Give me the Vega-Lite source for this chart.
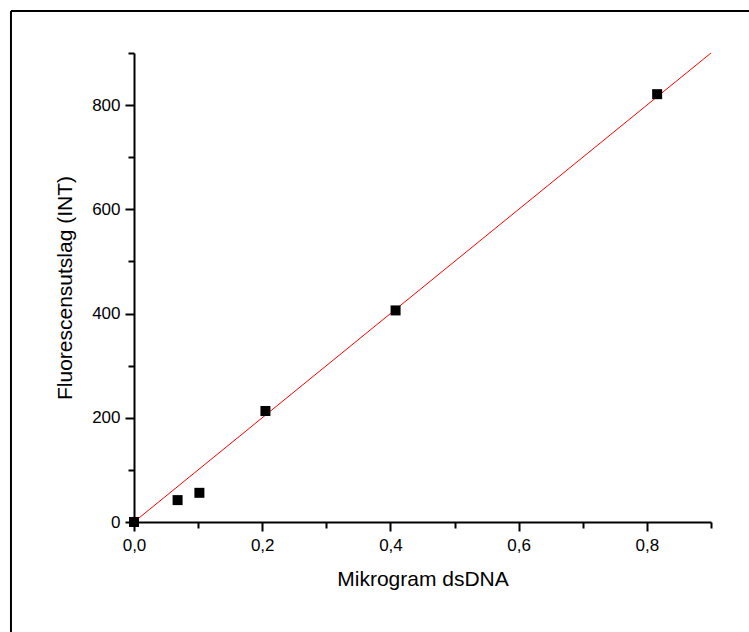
{
  "$schema": "https://vega.github.io/schema/vega-lite/v6.json",
  "width": 577,
  "height": 469,
  "autosize": "none",
  "padding": {"left": 134, "top": 53, "right": 38, "bottom": 110},
  "background": "white",
  "config": {
    "view": {"stroke": null},
    "font": "Liberation Sans",
    "axis": {"grid": false, "domainColor": "black", "domainWidth": 2, "tickColor": "black", "tickWidth": 2, "labelColor": "black", "titleColor": "black", "labelFont": "Liberation Sans", "titleFont": "Liberation Sans", "titleFontWeight": "normal", "labelFontSize": 17, "titleFontSize": 21, "labelFlush": false, "labelOverlap": false}
  },
  "datasets": {
    "points": [
      {"x": 0.0, "y": 0},
      {"x": 0.068, "y": 42},
      {"x": 0.102, "y": 56},
      {"x": 0.205, "y": 213},
      {"x": 0.408, "y": 406},
      {"x": 0.816, "y": 821}
    ],
    "fit": [
      {"x": 0.0, "y": 0},
      {"x": 0.9, "y": 900}
    ]
  },
  "layer": [
    {
      "data": {"name": "fit"},
      "mark": {"type": "line", "color": "#ff0000", "strokeWidth": 1},
      "encoding": {
        "x": {"field": "x", "type": "quantitative", "scale": {"domain": [0, 0.9], "nice": false, "zero": false},
          "axis": {"title": "Mikrogram dsDNA", "values": [0, 0.1, 0.2, 0.3, 0.4, 0.5, 0.6, 0.7, 0.8, 0.9],
            "labelExpr": "round(datum.value*10) % 2 == 0 ? replace(format(abs(datum.value), '.1f'), '.', ',') : ''",
            "tickSize": {"condition": {"test": "round(datum.value*10) % 2 == 0", "value": 9}, "value": 6},
            "labelPadding": 6, "titlePadding": 15}},
        "y": {"field": "y", "type": "quantitative", "scale": {"domain": [0, 900], "nice": false, "zero": false},
          "axis": {"title": "Fluorescensutslag (INT)", "values": [0, 100, 200, 300, 400, 500, 600, 700, 800, 900],
            "labelExpr": "round(datum.value/100) % 2 == 0 ? format(abs(datum.value), 'd') : ''",
            "tickSize": {"condition": {"test": "round(datum.value/100) % 2 == 0", "value": 9}, "value": 6},
            "labelPadding": 5, "titlePadding": 16}}
      }
    },
    {
      "data": {"name": "points"},
      "mark": {"type": "point", "shape": "square", "filled": true, "size": 100, "color": "black", "opacity": 1},
      "encoding": {
        "x": {"field": "x", "type": "quantitative"},
        "y": {"field": "y", "type": "quantitative"}
      }
    },
    {
      "data": {"values": [{}]},
      "mark": {"type": "rule", "color": "black", "strokeWidth": 2},
      "encoding": {
        "x": {"datum": -0.1919, "type": "quantitative"},
        "y": {"datum": 980.6, "type": "quantitative"},
        "y2": {"datum": -300}
      }
    },
    {
      "data": {"values": [{}]},
      "mark": {"type": "rule", "color": "black", "strokeWidth": 2},
      "encoding": {
        "x": {"datum": -0.1919, "type": "quantitative"},
        "x2": {"datum": 1.2},
        "y": {"datum": 980.6, "type": "quantitative"}
      }
    }
  ]
}
